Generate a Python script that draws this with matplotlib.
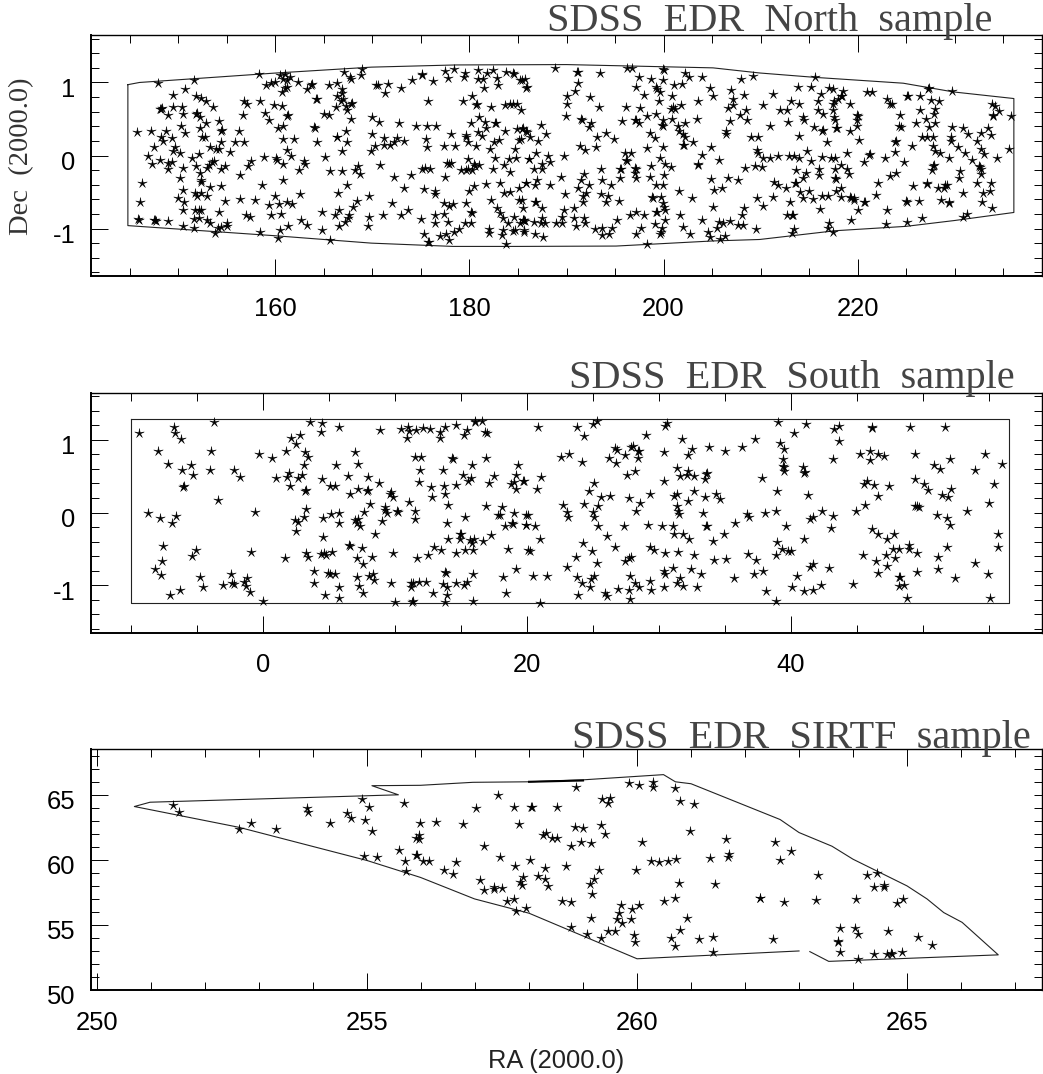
#!/usr/bin/env python3
# SDSS EDR sky coverage, three fields stacked
import matplotlib
matplotlib.use("Agg")
import matplotlib.pyplot as plt
from matplotlib.path import Path
from matplotlib.ticker import MultipleLocator
from matplotlib.transforms import ScaledTranslation

W, H = 1043, 1074

# ── north field (RA, Dec) ──────────────────────────────────────────────────────
north_outline = [(144.8,.97),(146,1.0),(160.1,1.13),(169.9,1.21),(178.6,1.24),(190,1.245),(205.1,1.2),
    (209.9,1.13),(215.6,1.07),(224.7,.99),(229.9,.87),(236.1,.78),(236.1,-.78),(230,-.89),(225,-.97),
    (217.7,-1.03),(209.9,-1.15),(205.1,-1.17),(195.1,-1.24),(185,-1.245),(178.3,-1.245),(169.9,-1.2),
    (160.1,-1.1),(144.8,-.96),(144.8,.97)]
north_stars = [
(145.7,.32),(147.2,.34),(148.7,.33),(147.9,.99),(149.4,.83),(150.7,.91),(151.6,1.03),(148.2,.64),(148.1,.63),(148.3,.65),
(148.9,.55),(149.4,.66),(150.4,.67),(150.5,.57),(151.8,.81),(152.3,.79),(152.9,.75),(153.6,.66),(151.8,.57),(151.9,.58),(152.2,.53),
(152.8,.45),(154.2,.47),(154.4,.34),(154.5,.35),(152.2,.37),(152.4,.26),(152.7,.26),(150.3,.40),(150.7,.31),(148.2,.25),
(149.3,.24),(148.4,.20),(147.5,.11),(149.7,.11),(149.5,.06),(150.2,.04),(146.9,0),(147.3,-.11),(148.1,-.06),(148.9,-.18),
(149.3,-.09),(148.9,-.1),(150.5,-.17),(151.4,-.03),(152.1,.02),(151.8,-.14),(152.2,-.24),(153,-.17),(153.3,.11),(153.9,.09),(154.2,.09),
(154.4,.18),(155.3,.05),(155.8,.18),(156.8,.18),(156.2,.34),(153.2,-.13),(153.5,-.09),(153.7,-.07),(154.4,-.19),(154.8,-.15),
(150.2,-.31),(146.3,-.37),(150.5,-.47),(152.3,-.34),(152.35,-.36),(153.3,-.43),(154.4,-.42),(150,-.58),(150.6,-.63),(151.7,-.51),
(151.9,-.56),(152.3,-.52),(153,-.56),(154.8,-.62),(156.4,-.6),(157.9,-.61),(146,-.64),(150.5,-.75),(151.7,-.74),(152.1,-.75),
(152.3,-.74),(154.2,-.78),(145.8,-.87),(145.9,-.88),(147.5,-.89),(147.7,-.9),(147.6,-.88),(148.9,-.9),(150.5,-.96),(151.6,-.99),(151.6,-.87),
(152.1,-.86),(153,-.88),(153.3,-.92),(153.8,-1.06),(154.1,-.99),(154.4,-.98),(155,-.93),(155,-.97),(157,-.81),(157.4,-.84),
(158.4,-1.05),(158.6,-.41),(156.4,-.27),(157.2,-.14),(157.5,-.08),(158.8,-.02),(160.1,-.04),(160.2,-.06),(160.8,-.11),(161.6,0),
(161.2,.08),(160.8,.22),(161.9,.22),(160.3,.38),(160.8,.4),(159.3,.48),(158.9,.58),(161.2,.54),(161.3,.55),(159.9,.69),(160.7,.68),
(158.4,.74),(156.7,.55),(156.8,.75),(157.1,.7),(159,.96),(159.6,.99),(160,1.01),(158.3,1.11),(160.5,1.1),(161,1.12),(160.8,1.05),
(161.2,1.04),(161.5,1.07),(161,.93),(161.2,.94),(160.7,.87),(162.3,1.01),(163.3,.91),(163.7,.97),(163.8,.98),(164.2,.77),(164.3,.78),
(165,.57),(165.5,.55),(165.5,.96),(166.3,.99),(166.9,.91),(167.1,1.15),(167.8,1.05),(167.7,1.08),(168.9,1.18),(168.8,1.1),
(166.3,.82),(166.9,.85),(167,.77),(166.8,.74),(167.8,.71),(167.9,.72),(167.3,.68),(166.2,.66),(167.4,.62),(167.8,.5),(164,.39),(164.1,.38),
(167.3,.33),(166.3,.25),(166.4,.26),(167.4,.18),(164.3,.18),(166.9,.06),(165.1,-.02),(162.4,-.2),(162.9,-.08),(163.1,-.11),(160.8,-.34),
(162.5,-.53),(160,-.56),(159.3,-.68),(160.4,-.66),(161.2,-.64),(161.7,-.67),(159.5,-.81),(160.6,-.8),(161.3,-.97),(160.5,-1.02),
(160.3,-1.13),(162.6,-.88),(163.3,-.95),(164.8,-1.02),(165.6,-1.16),(164.8,-.78),(166.1,-.82),(166.6,-.75),(166.6,-.97),(167.2,-.91),
(167.5,-.86),(167.6,-.81),(168,-.7),(168.4,-.62),(169.6,-.55),(166.5,-.52),(167.4,-.4),(165.6,-.21),(166.9,-.21),(168.2,-.2),
(168.5,-.14),(168.7,-.25),(170.8,-.13),(172.2,-.29),(174,-.27),(173.3,-.45),(172,-.65),(173.7,-.75),(172.9,-.82),(171.1,-.81),
(169.6,-.84),(169.5,-.97),(170,.53),(170.7,.46),(170,.29),(169.9,.06),(170.3,.13),(171.2,.24),(171.2,.15),(171.8,.14),(172.2,.18),
(172.5,.24),(173.3,.2),(172.7,.44),(174.5,.4),(175.6,.4),(176.6,.4),(178.1,.29),(177.4,.13),(178.5,.13),(175.5,.22),(175.6,.12),
(178.1,-.1),(177.7,-.1),(177.9,-.11),(175.1,-.18),(175.4,-.17),(175.9,-.18),(177.5,-.3),(175.3,-.46),(176.5,-.48),(176.5,-.53),
(177.4,-.65),(178.3,-.66),(177.9,-.69),(177.4,-.8),(176.4,-.82),(176.5,-.92),(175,-.87),(177.8,-.91),(175.3,-1.07),(175.7,-1.18),(175.8,-1.19),
(177,-1.1),(177.6,-1.07),(177.9,-1.16),(178.4,-1.05),(178.9,-1.01),(179.5,-.92),(180.2,-.92),(180.2,-.78),(180.3,-.79),(179.6,-.65),
(180,-.48),(180.5,-.42),(181.7,-.39),(183.1,-.37),(182.2,-.61),(183.6,-.51),(184.2,-.5),(185.1,-.44),(185.8,-.38),(185.4,-.61),
(182.8,-.72),(183.1,-.79),(183.5,-.86),(184.6,-.84),(185.6,-.88),(185.7,-.9),(185.5,-.89),(184,-.93),(182,-1),(182,-1.06),(183.5,-1.02),(183.4,-1.09),
(184.7,-1.02),(184.5,-1.04),(185.6,-1.02),(183.8,-1.21),(179.1,-.2),(179.6,-.2),(179.8,-.18),(180.3,-.2),(180.5,-.12),(181,-.13),
(180.6,-.14),(179.8,-.05),(182.4,-.18),(182.6,-.04),(183.6,-.13),(184.2,-.23),(184.1,-.05),(184.8,-.04),(186.1,-.05),(182.1,.09),
(182.5,.18),(183,.21),(184.7,.09),(185.3,.22),(180.7,.13),(179.8,.18),(179.6,.28),(179.6,.26),(181.3,.27),(180.9,.32),(181.7,.37),
(180.2,.45),(181,.53),(181.6,.46),(182.6,.44),(182.7,.45),(183.7,.34),(184.9,.36),(185.4,.36),(185.9,.32),(182.2,.67),(180.7,.69),(180.8,.7),
(179.3,.75),(180.3,.81),(175.7,.74),(183.7,.69),(184.2,.71),(184.5,.7),(184.9,.71),(185.3,.62),(170.4,.97),(170.6,.97),(171.6,.98),
(171.3,.85),(172.9,.92),(174.1,1.03),(175.1,1.12),(175.1,1.1),(176.2,1.02),(177.5,1.16),(178.4,1.19),(177.8,1.06),(179.5,1.13),(179.4,1.07),
(180.9,1.17),(180.9,1.05),(181.4,1.05),(181.8,1.13),(182.4,1.17),(182.8,1.06),(182.9,.96),(181.5,.92),(183.8,1.15),(184.5,1.13),(184.6,1.12),
(185.4,1.04),(185.9,.94),(185.7,1.05),
(188.8,1.2),(191.1,1.14),(191.2,1.15),(191.2,.99),(193.5,1.13),(196.2,1.2),(196.7,1.2),(197.5,1.07),(198.7,1.05),(199.9,1.18),(200,1.17),
(199.9,1.03),(201.1,.97),(201.9,.98),(202.2,1.13),(202.6,1.08),(204,1.07),(185.2,1.03),(185.8,.93),(190.9,.88),(190,.81),(190,.7),
(189.9,.54),(192.4,.8),(193.3,.66),(197.2,.94),(198,.83),(199.2,.94),(199.3,.91),(199.6,.87),(199.5,.74),(200.9,.81),(201.8,.69),
(201,.67),(200.8,.63),(201.2,.63),(203.5,.74),(196.1,.66),(197.6,.65),(199.2,.57),(198.3,.54),(197.1,.48),(197.2,.49),(197.5,.44),(195.7,.47),
(199.9,.48),(199.8,.42),(199.9,.41),(200.9,.5),(203.4,.5),(202.2,.44),(201.5,.41),(201.6,.34),(202,.3),(202.2,.25),(202,.14),(202.1,.15),(203,.19),
(191.5,.5),(191.6,.49),(192.5,.45),(192.3,.39),(193.1,.26),(194.1,.31),(194.9,.23),(198.6,.31),(199.1,.24),(198.3,.1),(199.9,.12),
(191.4,.13),(191.9,.07),(193,.11),(196,.04),(196.6,.04),(196.1,-.06),(196.2,-.07),(189.7,0),(188.1,0),(187.4,.42),(187.9,.29),(187.1,.2),
(186.2,.26),(185.5,.37),(185.8,.34),(185.1,.21),(186.9,.04),(186.1,-.05),(187.5,-.11),(188.3,-.09),(186.6,-.18),(187.5,-.18),
(193.6,-.18),(195.5,-.18),(195.6,-.19),(197.1,-.17),(197.2,-.18),(197.1,-.24),(197.2,-.31),(195.5,-.31),(198.7,-.14),(199.6,-.04),(200.2,-.12),
(200.8,-.16),(200,-.27),(198.6,-.29),(199.2,-.4),(199.9,-.4),(193.7,-.34),(194.6,-.41),(191.8,-.25),(191.5,-.33),(191.2,-.44),
(192.3,-.41),(189.4,-.29),(188.3,-.41),(187,-.34),(186.8,-.41),(185.8,-.38),(189.8,-.53),(191.7,-.56),(192,-.52),(191.7,-.63),
(193.6,-.53),(194.3,-.56),(194.1,-.64),(195.4,-.62),(198.8,-.57),(198.9,-.58),(199.7,-.57),(201.6,-.48),(202.9,-.58),(199.9,-.65),(200.2,-.75),
(199.2,-.78),(199.3,-.77),(200,-.7),(186.8,-.63),(186.9,-.63),(185.1,-.61),(185.5,-.72),(187.5,-.72),(189.7,-.75),(190.8,-.72),(189.5,-.84),
(190.8,-.86),(191.8,-.85),(185.5,-.89),(185.2,-.92),(186.6,-.91),(187.5,-.86),(187.4,-.92),(187.8,-.93),(188.9,-.93),(189.5,-.92),
(191,-.97),(191.9,-.92),(192.9,-1.01),(193.7,-.99),(193.7,-1.09),(194.4,-1.07),(194.7,-.99),(195.2,-.89),(196.5,-.82),(197.2,-.78),
(198,-.82),(199.1,-.94),(200.2,-.89),(201.7,-.81),(199.8,-.99),(199.6,-1.08),(199.7,-1.05),(197.7,-.99),(197.2,-1.07),(198.3,-1.21),
(202,-.98),(202.7,-1.07),(204,-.89),(186.8,-1.08),(187.6,-1.12),(185.6,-1.05),(204.6,-1.05),(204.8,-1.11),(205.7,-.91),(205.5,-.99),
(206.1,-.92),(206.8,-.9),(205.8,-1.15),(206.3,-1.1),(207.7,-.95),(208.2,-.95),(208.1,-.81),(208.3,-.72),(209.5,-1.01),(205.1,-.71),
(209.6,-.58),(210.3,-.69),(211.3,-.57),(212.6,-.44),(211.8,-.41),(211.4,-.36),(213.5,-.38),(213.6,-.37),(213,-.63),(214.1,-.5),(215,-.49),
(214.4,-.58),(215.4,-.59),(216.3,-.55),(216.9,-.56),(217.8,-.48),(218.3,-.44),(218.3,-.57),(219.2,-.57),(219.3,-.58),(219.6,-.58),(220.7,-.64),(220.8,-.63),
(220,-.75),(219.6,-.61),(219.3,-.88),(216.1,-.73),(212.7,-.81),(213.2,-.82),(213.3,-.81),(213.4,-1.01),(213.2,-1.06),(217.1,-.92),(216.9,-.99),
(217.5,-1.05),(223,-.74),(222.9,-.94),(225.1,-.91),(226.6,-.85),(221.9,-.54),(222.1,-.38),(223.3,-.28),(224,-.24),(225,-.62),(225.1,-.63),
(226.3,-.62),(225.7,-.42),(227.1,-.38),(227.2,-.39),(228.3,-.44),(228.9,-.44),(229.2,-.41),(229,-.4),(228.6,-.61),(229.4,-.63),(229.4,-.65),
(230.9,-.51),(230.9,-.84),(231.3,-.8),(232.8,-.63),(232.9,-.52),(233.6,-.48),(233.7,-.37),(232.3,-.38),(233.8,-.72),(230.5,-.21),
(230.4,-.31),(232.5,-.15),(232.6,-.16),(232.7,-.19),(232.7,-.26),(231.8,-.06),(227.8,-.14),(227.9,-.13),(227.7,-.2),(229.4,-.03),(228,.06),(228.5,.03),
(227.8,.13),(227.8,.25),(227.2,.25),(226.6,.25),(225.6,.13),(223.9,.19),(224,.2),(223.9,.05),(222.8,-.03),(221.2,.01),(221.3,.02),(220.7,-.09),
(224.8,-.09),(220.1,.21),(218.9,.04),(219.9,.55),(220,.54),(219.9,.41),(219.2,.34),(219.9,.48),(217.8,.37),(217.9,.38),(216.3,.34),(216.4,.35),(215.5,.39),
(216.8,.18),(214,.27),(214.8,.06),(212.9,0),(213.4,0),(214,-.03),(215.2,-.07),(216.3,-.02),(217.3,-.04),(217.7,-.03),(211.8,0),
(211,-.04),(210.3,-.04),(209.6,.07),(209.7,.03),(209,.26),(209.7,.26),(209.4,-.14),(210.1,-.16),(208.4,-.17),(213.7,-.2),(214.7,-.24),
(214.4,-.31),(216,-.19),(216,-.27),(217.7,-.18),(217.7,-.31),(217.8,-.32),(218.3,-.13),(218.9,-.19),(219.1,-.25),(205.7,-.06),(204.9,.12),
(204,.01),(203.5,-.12),(203.6,-.13),(204.9,-.32),(206.6,-.31),(207.7,-.34),(205.2,-.47),(206,-.44),(206.4,.34),(206.4,.29),(206.8,.47),
(207.9,.55),(208.6,.48),(208.5,.62),(206.6,.65),(207.2,.69),(207.2,.78),(207,.9),(208.3,.83),(204.8,.93),(205.1,.81),(208,1.05),
(209.2,1.09),(210.2,.69),(211,.41),(211.3,.84),(212,.62),(212.7,.62),(212.8,.46),(213.1,.75),(214,.7),(214.4,.53),(214.5,.48),
(213.9,.94),(215.2,.94),(215.6,1.07),(216.2,.84),(215.9,.74),(215.9,.62),(216.4,.57),(217.1,.93),(217.5,.91),(218.5,.88),(218.3,.81),(218.4,.82),
(218,.78),(217.6,.75),(217.5,.71),(217.5,.62),(217.6,.53),(217.7,.48),(219.2,.71),(221,.87),(221.5,.87),(223,.77),(223.5,.7),(223.3,.71),
(224.4,.56),(224.3,.41),(224.5,.39),(226,.44),(225.1,.81),(225.2,.82),(226.4,.82),(227.3,.91),(227.4,.92),(229.7,.88),(227.6,.76),(228.4,.74),(228,.64),
(227.9,.57),(226.4,.62),(227,.5),(227.4,.39),(228,.44),(229.7,.39),(229.6,.26),(229.6,.2),(230.3,.11),(231.1,.03),(230.9,.38),
(231.4,.3),(232.3,.2),(232.7,.31),(233.4,.37),(233.7,.28),(232.7,.09),(233,.02),(234.4,-.04),(235.6,.09),(235.8,.54),(233.8,.71),
(234.2,.68),(234.6,.61),(233.9,.54),(234,.55),
]

# ── south field ────────────────────────────────────────────────────────────────
south_outline = [(-10,1.28),(56.5,1.28),(56.5,-1.25),(-10,-1.25),(-10,1.28)]
south_stars = [
(-9.35,1.1),(-6.7,1.17),(-6.65,1.09),(-6.2,1.01),(-3.7,1.25),(-7.95,.84),(-7.2,.67),(-6.1,.58),(-5.4,.65),(-5.3,.52),(-3.95,.84),
(-4,.58),(-2.15,.59),(-1.75,.49),(-6,.35),(-5.95,.36),(-3.35,.17),(-8.7,0),(-7.8,-.08),(-6.6,-.05),(-6.9,-.15),(-.55,.01),(-7.55,-.46),
(-7.65,-.67),(-5.05,-.51),(-5.35,-.6),(-.9,-.54),(-8.15,-.77),(-7.7,-.86),(-4.75,-.89),(-4.5,-1.03),(-2.4,-.85),(-3,-1),(-2.35,-.97),
(-2.15,-.98),(-1.2,-.9),(-1.45,-.96),(-1.25,-1.01),(-1,-1.09),(-7,-1.14),(-6.25,-1.07),(0,-1.22),(-.25,.81),(.7,.75),(1.8,.84),
(2.15,1.03),(2.85,1.06),(2.55,.94),(3.2,.83),(3.45,.77),(3.15,.65),(2,.54),(1.85,.49),(1,.47),(2.7,.47),(2.95,.51),(2.1,.36),
(3.2,.3),(3.25,.31),(3.6,1.25),(4.5,1.23),(4.4,1.11),(5.75,1.18),(5.55,.66),(4.5,.46),(5.1,.37),(5.5,.36),(6.95,.83),(7.2,.67),(6.45,.5),
(8,.49),(8.8,.4),(6.6,.26),(7.2,.32),(7.9,.3),(8,.31),(9.65,.26),(9.85,.21),(9.75,.28),(8.1,.12),(7.7,.01),(9.25,.08),(9.25,.03),(9.4,0),
(10.2,.02),(10.25,.01),(11.1,.14),(11.55,.02),(11.55,-.09),(9,-.12),(3.3,.05),(3.15,-.06),(2.45,-.1),(2.7,-.13),(2.55,-.25),(4.55,-.07),(5.2,-.02),
(5.8,0),(5.75,-.15),(6.95,-.1),(7.25,-.09),(7.15,-.14),(7.35,-.19),(8.5,-.29),(4.6,-.33),(3.25,-.56),(3.45,-.61),(1.7,-.62),
(4.45,-.57),(4.65,-.56),(4.8,-.59),(5.25,-.54),(6.5,-.45),(6.6,-.46),(7.5,-.49),(7.15,-.62),(7.6,-.71),(8.3,-.61),(9.9,-.56),(11.65,-.62),
(12.5,-.58),(13,-.48),(13.5,-.52),(14.6,-.55),(15.35,-.51),(15.95,-.52),(14,-.37),(14.95,-.29),(15,-.3),(14.95,-.37),(15.7,-.38),(16,-.37),
(16.7,-.39),(17.3,-.31),(15.85,-.42),(18.6,-.5),(20.1,-.52),(19.15,-.77),(18.2,-.88),(18.4,-1.1),(3.9,-.8),(3.9,-.97),(4.95,-.83),
(5.1,-.84),(5.5,-.85),(5.8,-1.02),(4.75,-1.14),(5.8,-1.18),(7.15,-.88),(7.3,-1.01),(7.6,-1.11),(8.05,-.87),(8.35,-.84),(8.4,-.93),
(9.75,-.97),(10,-1.23),(11.25,-.97),(11.25,-1.03),(11.4,-.97),(11.85,-.95),(12.35,-.96),(11.3,-1.23),(11.35,-1.22),(12.9,-1.1),(13.8,-.82),(13.85,-.83),
(13.65,-.98),(13.95,-1.02),(13.95,-1.14),(13.8,-1.23),(14.65,-.97),(15.25,-1),(15.5,-.96),(15.9,-.84),(15.95,-1.22),(8.9,1.13),
(10.5,1.15),(11,1.17),(11.1,1.12),(10.9,1.03),(11.6,1.14),(12.1,1.16),(12.7,1.15),(13.4,1.11),(13.4,1.03),(13.8,1.17),(14.65,1.2),
(15.45,1.13),(15.25,1.06),(16.05,1.26),(16.1,1.25),(16.6,1.26),(16.8,1.11),(17,1.09),(11.55,.76),(12,.76),(11.9,.58),(11.8,.42),(12.75,.35),
(12.8,.22),(13.65,.59),(14.35,.75),(14.4,.74),(15.85,.65),(16.9,.75),(15.2,.51),(15.75,.48),(15.55,.43),(14.65,.38),(13.7,.36),(13.8,.25),
(14,.1),(13.95,-.14),(15.3,-.06),(16.9,.09),(17.5,.5),(17.15,.4),(18.1,.08),(17.8,-.04),(17.95,-.04),(18.35,-.19),(18.9,-.15),(18.95,-.16),
(19,0),(19.9,-.17),(19.95,-.04),(19.3,.65),(19.2,.51),(19.05,.42),(18.8,.39),(19.7,.44),(19.2,.32),
(20.85,1.17),(23.8,1.17),(24.3,1.05),(25,1.22),(25.3,1.26),(30.6,1.23),(30.45,1.19),(29.05,1.06),(31.75,1.01),(22.6,.77),(23.2,.8),
(24.2,.69),(26.7,.89),(26.85,.86),(26.25,.75),(26.75,.68),(27.4,.79),(27.9,.9),(28,.91),(28.4,.84),(28.5,.85),(28.45,.75),(28.2,.57),(27.6,.52),
(30.4,.83),(32.2,.79),(32.5,.88),(33.8,.9),(35,.85),(36.3,.9),(37.3,1.01),(39,1.25),(40.2,1.1),(41.1,1.22),(39.2,.95),(39.5,.88),
(39.4,.74),(39.4,.64),(39.5,.63),(39.5,.57),(40.9,.63),(41,.55),(41.05,.56),(37.8,.48),(38.9,.29),(41.3,.24),(43.2,.73),(43.25,1.15),(43.6,1.19),
(43.65,.99),(46.1,1.18),(46.1,1.16),(49,1.17),(51.65,1.17),(45.2,.81),(45.95,.84),(45.95,.72),(46.55,.8),(47.05,.78),(49.35,.8),(50.85,.65),
(51.25,.6),(52.05,.73),(54.65,.8),(53.9,.59),(55.95,.67),(55.4,.39),(55,.13),(49.35,.46),(50.1,.39),(50.35,.31),(52.1,.33),
(51.4,.24),(51.85,.22),(53.35,.02),(49.35,.09),(49.5,.09),(49.65,.08),(51.05,-.04),(51.8,-.07),(52.05,-.17),(55.65,-.29),(55.65,-.47),(51.8,-.48),
(51.15,-.61),(51.15,-.77),(53.9,-.7),(54.9,-.84),(52.4,-.9),(55.1,-1.18),(49.5,-.55),(48.95,-.45),(48.95,-.5),(47.8,-.29),(47.3,-.36),
(46.6,-.29),(46.1,-.22),(48.15,-.5),(47.75,-.5),(47.2,-.58),(47.85,-.63),(45.45,-.58),(46.4,-.67),(47.25,-.74),(46.6,-.83),(49.5,-.82),
(48.2,-.88),(48.25,-.89),(48.2,-1.01),(48.55,-.99),(48.75,-1.18),(44.7,-.98),(42.3,-1),(41.7,-1.07),(41,-1.08),(40.1,-1.02),(40.45,-.87),
(41.45,-.75),(41.65,-.71),(42.9,-.76),(44.9,.02),(45.6,.1),(46.55,.23),(45.55,.39),(45.75,.44),(46.25,.38),(47.4,.36),(43.15,-.05),
(43,-.21),(42.35,.02),(41.65,-.06),(41.45,-.09),(41,-.36),(39.6,-.19),(38.85,.02),(38,-.01),(36.65,-.02),(36.8,-.06),(35.75,-.15),
(34.9,-.29),(34.1,-.39),(33.55,-.19),(33.6,-.18),(33.35,0),(33.45,.21),(34.35,.26),(34.65,.19),(33.55,.53),(33.65,.54),(33.5,.46),(32.65,.5),(32.2,.57),
(32.1,.51),(31.6,.5),(31.4,.61),(30.35,.43),(32.65,.3),(32.2,.16),(31.35,.26),(31.15,.23),(29.3,.26),(28.55,.13),(28.25,.02),
(27.7,.2),(26.3,.23),(25.6,.21),(25.35,.09),(24.7,.29),(25.05,.4),(24.3,.12),(25,.01),(25.05,-.06),(25.35,-.19),(22.7,.11),(23,.01),
(23.1,-.06),(21.1,.49),(19.8,.44),(20.8,.32),(20.1,-.04),(19.95,-.17),(20.6,-.19),(21,-.37),(20.2,-.53),(20.5,-.87),(21.55,-.87),
(21,-1.24),(31.35,.09),(31.45,.02),(31.55,-.02),(27.35,-.19),(29.15,-.17),(30.25,-.19),(31.1,-.19),(31.15,-.3),(31.85,-.3),(32.3,-.36),
(26.1,-.32),(26.65,-.48),(24.25,-.42),(24.9,-.53),(23.7,-.61),(25.3,-.7),(23,-.75),(29.3,-.47),(29.6,-.52),(30.45,-.56),(31.45,-.54),
(32.65,-.59),(34.2,-.65),(35.1,-.64),(36.75,-.57),(37.35,-.65),(38.85,-.58),(38.95,-.4),(39.3,-.5),(39.75,-.53),(40,-.53),(37.9,-.8),
(37.2,-.84),(35.7,-.9),(38.1,-1.08),(38.85,-1.21),(27.75,-.62),(27.45,-.67),(27.9,-.61),(27.8,-.87),(28.2,-.97),(28.5,-1.03),(29.3,-.94),
(29.4,-1.07),(27.7,-1.07),(27.8,-1.19),(26.9,-1.05),(25.9,-1.11),(26.1,-1.15),(23.9,-1.13),(23.8,-.88),(24.15,-.97),(24.75,-1.03),
(24.85,-.92),(25.05,-.87),(30.4,-.81),(30.45,-.85),(31.1,-.76),(32.4,-.77),(33.15,-.84),(31.6,-.9),(30.35,-1.02),(31.4,-.97),
(31.85,-1.01),(32.85,-1.03),
]

# ── SIRTF field ────────────────────────────────────────────────────────────────
sirtf_outline = [(263.2,52.95),(263.55,52.2),(266.69,52.7),(266.02,55.2),(265.68,55.95),(265.37,57),(265,58),(264,60.05),
    (263.61,61.05),(263,62.1),(262.65,63.1),(261,65.85),(260.71,66.0),(260.49,66.55),(259,66.15),(258,66),(256.96,65.96),
    (255.99,65.73),(255.09,65.7),(255.58,65.0),(250.98,64.43),(250.69,64.1),(252.63,62.5),(255,59.95),(255.99,58.65),
    (256.99,57),(258,55.9),(260,52.4),(263,53)]
sirtf_thick = [(258,66),(259,66.1)]
sirtf_stars = [
(251.41,64.25),(251.51,63.65),(252.63,62.4),(252.85,62.8),(253.32,62.4),(253.89,64),(253.9,63.65),(254.32,62.85),(254.63,63.6),
(254.71,63.2),(254.91,64.65),(255.03,64.1),(254.97,63.05),(255.09,62.2),(255.69,64.35),(255.98,62.85),(256.27,62.9),(256.77,62.75),
(257.01,63.95),(257.42,65),(257.72,64.1),(258.04,64.05),(258.05,64.03),(257.82,62.75),(255.96,61.9),(255.91,61.65),(255.97,61.6),(257.17,61.1),
(257.47,60.2),(254.94,60.3),(255.19,60.2),(255.6,60.75),(255.7,59.9),(255.73,59.15),(255.91,60.4),(255.93,60.38),(256.04,59.95),(256.14,59.95),
(256.65,59.85),(256.43,59.25),(256.6,58.9),(257.1,58.45),(257.17,57.65),(257.35,57.75),(257.36,57.95),(257.5,57.8),(257.6,56.85),
(257.72,57),(257.75,56.1),(257.95,56.3),(257.74,59.55),(257.88,58.7),(257.83,58.3),(257.87,58.05),(258.01,60),
(258.51,64.1),(258.87,65.6),(259.86,65.9),(260.04,65.75),(260.29,65.95),(260.29,65.6),(260.7,65.55),(260.8,64.5),(261.06,64.3),
(259.35,64.65),(259.49,64.75),(259.46,64.4),(259.34,62.65),(259.4,62),(258.85,62.5),(258.99,62.45),(258.25,61.9),(258.32,62.1),
(258.43,61.7),(258.52,61.65),(258.77,61.05),(258.97,61.4),(259.15,61.3),(258.3,59.35),(258.69,59.55),(259.3,59.25),(259.21,58.55),
(259.12,58.15),(259.17,57.4),(258.16,58.75),(258.29,58.5),(258.35,58),(258.61,56.85),(258.78,56.8),(258.77,54.85),(259.15,55.55),
(259.07,54.3),(259.34,54),(259.46,54.55),(259.6,54.55),(259.71,56.5),(259.66,55.95),(259.62,55.45),(259.72,55.15),(259.9,56.2),
(259.88,55.45),(260.03,56.55),(259.95,54.2),(259.97,53.7),(259.98,59.2),(260.1,61.35),(260.25,59.9),(260.4,59.85),(260.58,59.95),
(260.72,60.1),(260.98,62.25),(261.35,60.15),(261.64,61.6),(261.68,60.2),(261.7,60.45),(260.77,58.25),(261.45,58.15),(260.49,56.85),
(260.71,57.05),(260.93,55.5),(260.79,54.6),(260.62,54),(260.71,53.4),(261.14,53.95),(261.4,54.1),(261.4,52.9),(262.27,57.1),(262.28,57.05),
(262.73,56.8),(263.32,56.9),(262.51,53.95),(262.56,61.4),(262.86,60.7),(262.64,60),(263.36,58.8),(264.06,57),(264.25,58.85),
(264.44,59),(264.38,57.9),(264.57,57.95),(264.58,58.1),(264.81,56.65),(264.93,57),(263.75,54.75),(264.03,54.75),(264.09,54.3),(264.65,54.55),
(265.2,54.1),(265.46,53.45),(263.72,53.75),(263.73,53.7),(263.75,52.95),(264.09,52.4),(264.38,52.75),(264.63,52.75),(264.7,52.85),(264.72,52.75),
(264.91,52.9),
]

panels = [
    # stars, outline, xlim, ylim, x major/minor, y major/minor, pixel box (l, t, r, b)
    (north_stars, north_outline, (141, 239), (-1.65, 1.65), 20, 5, 1, 0.2, (91, 35, 1042, 276)),
    (south_stars, south_outline, (-13, 59), (-1.65, 1.65), 20, 5, 1, 0.2, (91, 392.5, 1042, 632.5)),
    (sirtf_stars, sirtf_outline, (249.887, 267.5), (50, 68.52), 5, 1, 5, 1, (91, 749, 1042, 990)),
]
titles = [
    ("SDSS  EDR  North  sample", 547, 31),
    ("SDSS  EDR  South  sample", 569, 388),
    ("SDSS  EDR  SIRTF  sample", 572, 748),
]

plt.rcParams.update({
    "font.family": ["Liberation Sans", "DejaVu Sans"],
    "font.size": 18.4,
    "axes.unicode_minus": False,
})

star = Path.unit_regular_star(5, innerCircle=0.24)
fig = plt.figure(figsize=(W / 100, H / 100), dpi=100)

for stars, outline, xlim, ylim, xmaj, xmin, ymaj, ymin, box in panels:
    l, t, r, b = box
    ax = fig.add_axes([l / W, 1 - b / H, (r - l) / W, (b - t) / H])
    ax.plot(*zip(*outline), "-", color="#222222", lw=0.8, solid_joinstyle="round")
    ax.scatter(*zip(*stars), marker=star, s=52, c="black", linewidths=0.3, edgecolors="black", zorder=3)
    ax.set_xlim(*xlim)
    ax.set_ylim(*ylim)
    ax.xaxis.set_major_locator(MultipleLocator(xmaj))
    ax.xaxis.set_minor_locator(MultipleLocator(xmin))
    ax.yaxis.set_major_locator(MultipleLocator(ymaj))
    ax.yaxis.set_minor_locator(MultipleLocator(ymin))
    ax.tick_params(which="both", direction="in", top=True, right=True, width=0.7)
    ax.tick_params(which="major", length=12)
    ax.tick_params(which="minor", length=6)
    ax.tick_params(axis="x", which="major", pad=15)
    ax.tick_params(axis="y", which="major", pad=11)
    for tk in ax.yaxis.get_major_ticks():
        tk.tick2line.set_markersize(6)
    for side in ("top", "right"):
        ax.spines[side].set_linewidth(1.0)
    for side in ("bottom", "left"):
        ax.spines[side].set_linewidth(1.4)
    # y tick labels sit a little under their ticks
    shift = ScaledTranslation(0, -3.5 / 72, fig.dpi_scale_trans)
    for lbl in ax.get_yticklabels():
        lbl.set_transform(lbl.get_transform() + shift)
    if stars is sirtf_stars:
        ax.plot(*zip(*sirtf_thick), "-", color="black", lw=1.5)

for text, px, py in titles:
    fig.text(px / W, 1 - py / H, text, family="Liberation Serif", fontsize=29, color="#444444",
             ha="left", va="baseline", zorder=5)

fig.text(22 / W, 1 - 156 / H, "Dec  (2000.0)", family="Liberation Serif", fontsize=20.5, color="#333333",
         rotation=90, ha="center", va="center")
fig.text(556 / W, 1 - 1061 / H, "RA (2000.0)", fontsize=18.4, color="#222222", ha="center", va="center")

fig.savefig("out.png", dpi=100)
